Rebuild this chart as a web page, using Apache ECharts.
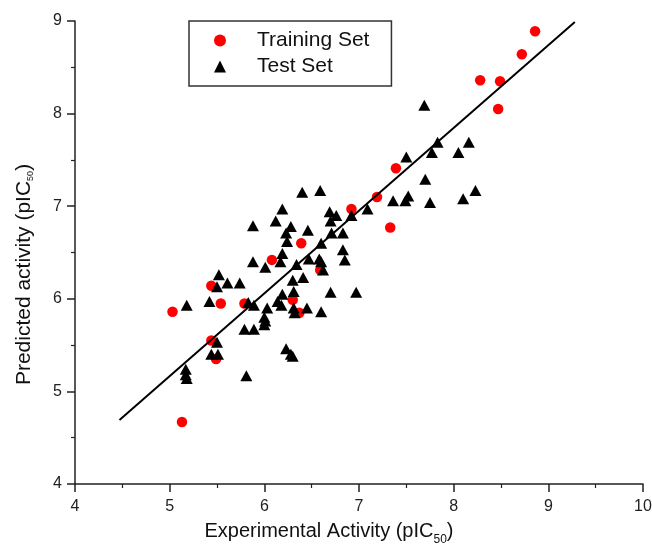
<!DOCTYPE html>
<html>
<head>
<meta charset="utf-8">
<script src="https://cdn.jsdelivr.net/npm/echarts@6/dist/echarts.min.js"></script>
<style>html,body{margin:0;padding:0;background:#fff}#c{width:652px;height:545px}</style>
</head>
<body>
<div id="c"></div>
<script>
const trainX = [8.86, 8.72, 8.28, 8.49, 8.47, 7.39, 7.19, 6.92, 7.33, 6.39, 6.08, 6.59, 5.44, 5.54, 5.79, 6.30, 5.03, 6.37, 5.44, 5.49, 5.13];
const trainY = [8.89, 8.64, 8.36, 8.35, 8.05, 7.41, 7.10, 6.97, 6.77, 6.60, 6.42, 6.31, 6.14, 5.95, 5.95, 5.99, 5.86, 5.85, 5.55, 5.35, 4.67];
const testX = [7.69, 7.83, 8.16, 7.77, 8.05, 7.50, 7.70, 8.23, 8.10, 7.75, 7.52, 7.49, 7.36, 7.09, 6.92, 6.76, 6.69, 6.70, 6.59, 6.40,
  6.19, 6.12, 6.28, 6.23, 6.24, 6.19, 6.17, 5.88, 5.88, 6.01, 6.46, 6.60, 6.71, 6.83, 6.83, 6.85, 6.47, 6.58, 6.60, 6.34,
  6.62, 6.41, 6.30, 6.31, 6.19, 6.14, 6.18, 6.03, 6.00, 6.01, 6.00, 6.31, 6.32, 6.45, 6.60, 6.70, 6.97, 5.52, 5.50, 5.61,
  5.74, 5.42, 5.18, 5.83, 5.89, 5.79, 5.89, 5.50, 5.44, 5.51, 5.17, 5.17, 5.18, 5.81, 6.23, 6.28, 6.30];
const testY = [8.09, 7.69, 7.69, 7.58, 7.58, 7.53, 7.29, 7.17, 7.08, 7.04, 7.11, 7.06, 7.06, 6.97, 6.90, 6.90, 6.94, 6.84, 7.17, 7.15,
  6.97, 6.84, 6.78, 6.71, 6.62, 6.49, 6.40, 6.79, 6.40, 6.34, 6.74, 6.60, 6.71, 6.71, 6.53, 6.42, 6.43, 6.43, 6.40, 6.37,
  6.31, 6.23, 6.20, 6.08, 6.05, 5.97, 5.93, 5.90, 5.80, 5.76, 5.72, 5.90, 5.85, 5.90, 5.86, 6.07, 6.07, 6.26, 6.13, 6.17,
  6.17, 5.97, 5.93, 5.96, 5.93, 5.67, 5.67, 5.53, 5.40, 5.40, 5.24, 5.18, 5.14, 5.17, 5.46, 5.40, 5.38];
const fitX = [4.47, 9.28];
const fitY = [4.69, 8.99];
const xTicks = [4, 5, 6, 7, 8, 9, 10];
const yTicks = [4, 5, 6, 7, 8, 9];

const zip = (a, b) => a.map((v, i) => [v, b[i]]);
const chart = echarts.init(document.getElementById('c'), null, {renderer: 'canvas'});
const font = 'Liberation Sans, Arial, sans-serif';
chart.setOption({
  animation: false,
  backgroundColor: '#fff',
  grid: {left: 75, right: 9, top: 21, bottom: 61, outerBoundsMode: 'none', containLabel: false},
  legend: {
    left: 189, top: 21, orient: 'vertical',
    padding: [9, 22, 9, 25],
    itemWidth: 12, itemHeight: 12, itemGap: 5,
    borderColor: '#333', borderWidth: 1.5,
    textStyle: {fontFamily: font, fontSize: 21, lineHeight: 21, color: '#111', padding: [0, 0, 0, 26]},
    data: [{name: 'Training Set', icon: 'circle'}, {name: 'Test Set', icon: 'triangle'}]
  },
  xAxis: {
    type: 'value', min: xTicks[0], max: xTicks[xTicks.length - 1], interval: 1,
    name: 'Experimental Activity (pIC{sub|50})',
    nameLocation: 'middle', nameGap: 32,
    nameTextStyle: {fontFamily: font, fontSize: 20, color: '#111', padding: [0, 60, 0, 0],
      rich: {sub: {fontFamily: font, fontSize: 12, color: '#111', padding: [18, 0, 0, 0]}}},
    axisLine: {onZero: false, lineStyle: {color: '#222', width: 1.5}},
    axisTick: {inside: false, length: 8, lineStyle: {color: '#222', width: 1.5}},
    minorTick: {show: true, splitNumber: 2, length: 4, lineStyle: {color: '#222', width: 1.2}},
    axisLabel: {fontFamily: font, fontSize: 16, color: '#222', margin: 15},
    splitLine: {show: false}
  },
  yAxis: {
    type: 'value', min: yTicks[0], max: yTicks[yTicks.length - 1], interval: 1,
    name: 'Predicted activity (pIC{sub|50})',
    nameLocation: 'middle', nameGap: 40, nameRotate: 90,
    nameTextStyle: {fontFamily: font, fontSize: 21, color: '#111', padding: [0, 44, 0, 0],
      rich: {sub: {fontFamily: font, fontSize: 9, color: '#111', padding: [12, 0, 0, 0]}}},
    axisLine: {onZero: false, lineStyle: {color: '#222', width: 1.5}},
    axisTick: {inside: false, length: 8, lineStyle: {color: '#222', width: 1.5}},
    minorTick: {show: true, splitNumber: 2, length: 4, lineStyle: {color: '#222', width: 1.2}},
    axisLabel: {fontFamily: font, fontSize: 16, color: '#222', margin: 13},
    splitLine: {show: false}
  },
  series: [
    {name: 'Training Set', type: 'scatter', symbol: 'circle', symbolSize: 10.5,
      itemStyle: {color: '#ff0000', opacity: 1}, data: zip(trainX, trainY), z: 2},
    {name: 'Test Set', type: 'scatter', symbol: 'triangle', symbolSize: [12, 11],
      itemStyle: {color: '#000', opacity: 1}, data: zip(testX, testY), z: 3},
    {name: 'fit', type: 'line', data: zip(fitX, fitY), symbol: 'none',
      lineStyle: {color: '#000', width: 2}, z: 4, silent: true}
  ]
});
</script>
</body>
</html>
